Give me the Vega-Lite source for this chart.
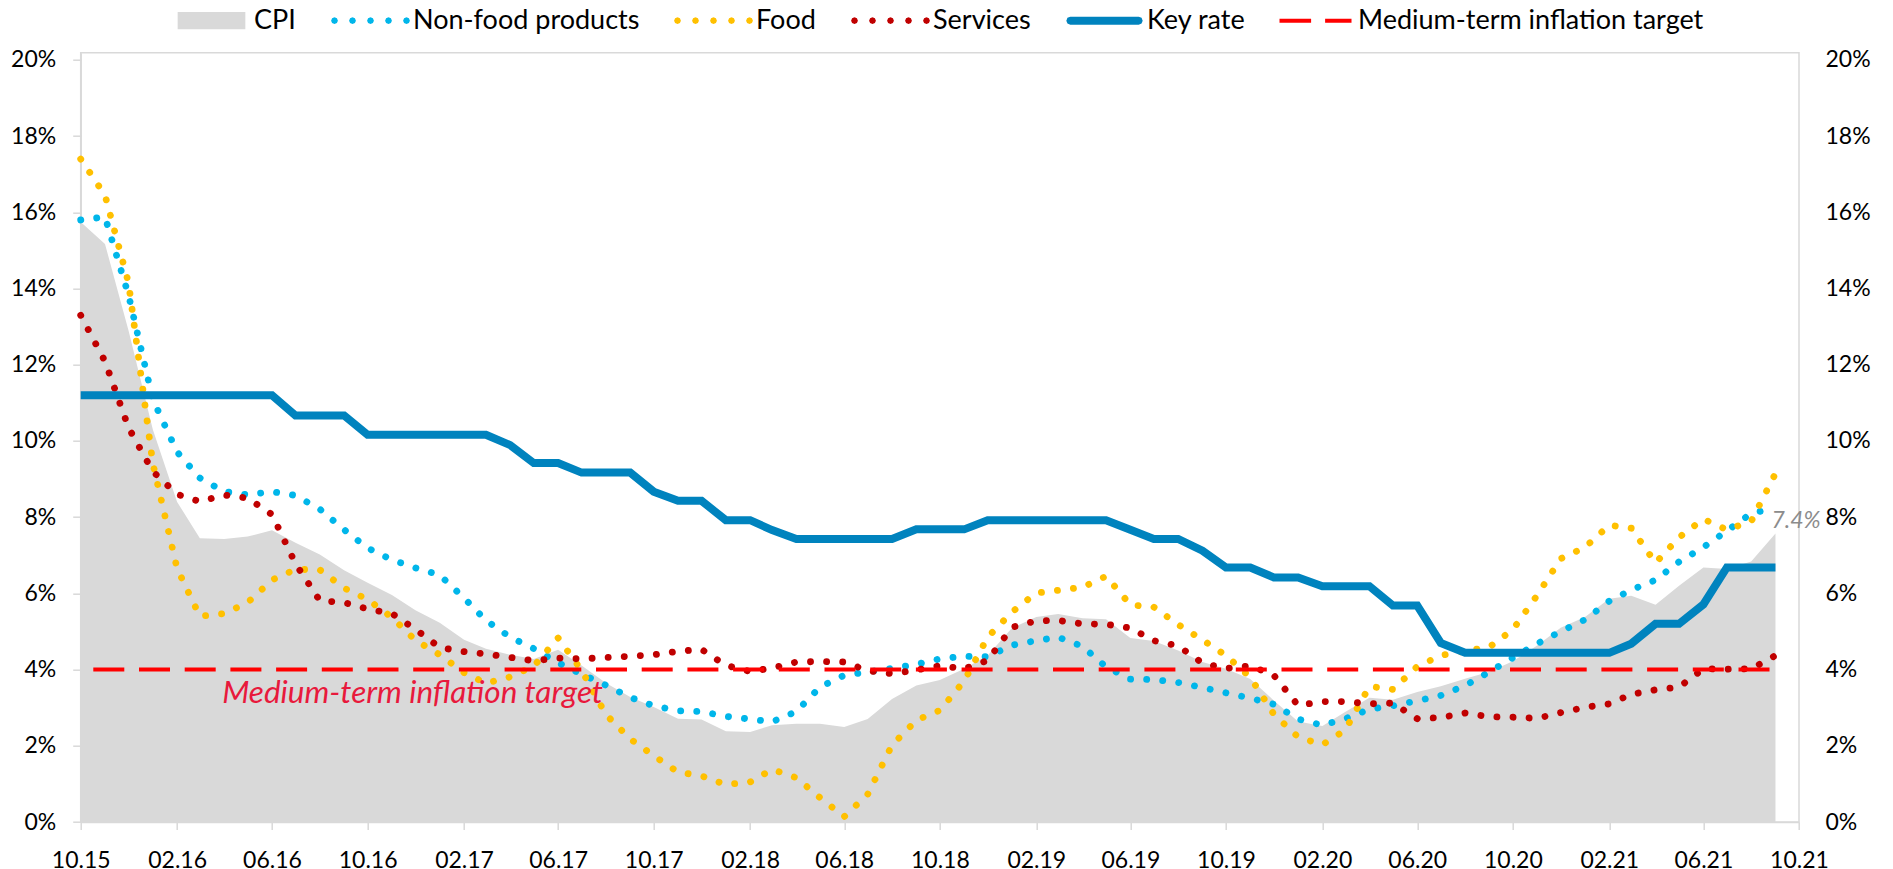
{
  "$schema": "https://vega.github.io/schema/vega-lite/v6.json",
  "width": 1718.3,
  "height": 769.3,
  "autosize": {"type": "none"},
  "padding": {"left": 80.7, "top": 52.7, "right": 94, "bottom": 47},
  "background": "white",
  "config": {
    "view": {"stroke": "#D9D9D9", "strokeWidth": 1.5},
    "font": "Lato",
    "axis": {"grid": false, "title": null, "labelFont": "Lato", "labelFontSize": 23, "labelColor": "#000000", "domainColor": "#D9D9D9", "domainWidth": 1.5, "tickColor": "#D9D9D9", "tickWidth": 1.5, "labelOverlap": false}
  },
  "datasets": {
    "series": [
      {"date": "2015-10-01", "cpi": 15.75, "nonfood": 15.80, "food": 17.40, "services": 13.30, "keyrate": 11.20, "target": 4},
      {"date": "2015-11-01", "cpi": 15.17, "nonfood": 15.88, "food": 16.45, "services": 12.09, "keyrate": 11.20, "target": 4},
      {"date": "2015-12-01", "cpi": 12.90, "nonfood": 13.83, "food": 14.15, "services": 10.35, "keyrate": 11.20, "target": 4},
      {"date": "2016-01-01", "cpi": 10.30, "nonfood": 11.09, "food": 9.41, "services": 9.20, "keyrate": 11.20, "target": 4},
      {"date": "2016-02-01", "cpi": 8.40, "nonfood": 9.71, "food": 6.65, "services": 8.60, "keyrate": 11.20, "target": 4},
      {"date": "2016-03-01", "cpi": 7.45, "nonfood": 9.03, "food": 5.40, "services": 8.41, "keyrate": 11.20, "target": 4},
      {"date": "2016-04-01", "cpi": 7.43, "nonfood": 8.67, "food": 5.47, "services": 8.58, "keyrate": 11.20, "target": 4},
      {"date": "2016-05-01", "cpi": 7.49, "nonfood": 8.59, "food": 5.76, "services": 8.50, "keyrate": 11.20, "target": 4},
      {"date": "2016-06-01", "cpi": 7.66, "nonfood": 8.67, "food": 6.35, "services": 8.07, "keyrate": 11.20, "target": 4},
      {"date": "2016-07-01", "cpi": 7.33, "nonfood": 8.57, "food": 6.63, "services": 6.78, "keyrate": 10.67, "target": 4},
      {"date": "2016-08-01", "cpi": 7.02, "nonfood": 8.21, "food": 6.62, "services": 5.81, "keyrate": 10.67, "target": 4},
      {"date": "2016-09-01", "cpi": 6.61, "nonfood": 7.67, "food": 6.14, "services": 5.76, "keyrate": 10.67, "target": 4},
      {"date": "2016-10-01", "cpi": 6.28, "nonfood": 7.19, "food": 5.84, "services": 5.59, "keyrate": 10.16, "target": 4},
      {"date": "2016-11-01", "cpi": 5.96, "nonfood": 6.88, "food": 5.37, "services": 5.47, "keyrate": 10.16, "target": 4},
      {"date": "2016-12-01", "cpi": 5.56, "nonfood": 6.67, "food": 4.77, "services": 5.06, "keyrate": 10.16, "target": 4},
      {"date": "2017-01-01", "cpi": 5.23, "nonfood": 6.48, "food": 4.39, "services": 4.58, "keyrate": 10.16, "target": 4},
      {"date": "2017-02-01", "cpi": 4.78, "nonfood": 5.88, "food": 3.92, "services": 4.47, "keyrate": 10.16, "target": 4},
      {"date": "2017-03-01", "cpi": 4.55, "nonfood": 5.29, "food": 3.64, "services": 4.41, "keyrate": 10.16, "target": 4},
      {"date": "2017-04-01", "cpi": 4.39, "nonfood": 4.85, "food": 3.81, "services": 4.32, "keyrate": 9.89, "target": 4},
      {"date": "2017-05-01", "cpi": 4.28, "nonfood": 4.55, "food": 4.09, "services": 4.23, "keyrate": 9.42, "target": 4},
      {"date": "2017-06-01", "cpi": 4.52, "nonfood": 4.18, "food": 4.83, "services": 4.30, "keyrate": 9.42, "target": 4},
      {"date": "2017-07-01", "cpi": 4.11, "nonfood": 3.88, "food": 3.98, "services": 4.28, "keyrate": 9.17, "target": 4},
      {"date": "2017-08-01", "cpi": 3.65, "nonfood": 3.59, "food": 2.82, "services": 4.32, "keyrate": 9.17, "target": 4},
      {"date": "2017-09-01", "cpi": 3.28, "nonfood": 3.27, "food": 2.18, "services": 4.35, "keyrate": 9.17, "target": 4},
      {"date": "2017-10-01", "cpi": 3.02, "nonfood": 3.05, "food": 1.74, "services": 4.39, "keyrate": 8.67, "target": 4},
      {"date": "2017-11-01", "cpi": 2.71, "nonfood": 2.92, "food": 1.31, "services": 4.48, "keyrate": 8.43, "target": 4},
      {"date": "2017-12-01", "cpi": 2.69, "nonfood": 2.90, "food": 1.21, "services": 4.53, "keyrate": 8.43, "target": 4},
      {"date": "2018-01-01", "cpi": 2.38, "nonfood": 2.77, "food": 0.98, "services": 4.11, "keyrate": 7.92, "target": 4},
      {"date": "2018-02-01", "cpi": 2.36, "nonfood": 2.70, "food": 1.05, "services": 3.95, "keyrate": 7.92, "target": 4},
      {"date": "2018-03-01", "cpi": 2.54, "nonfood": 2.63, "food": 1.38, "services": 4.04, "keyrate": 7.66, "target": 4},
      {"date": "2018-04-01", "cpi": 2.58, "nonfood": 2.90, "food": 1.16, "services": 4.20, "keyrate": 7.43, "target": 4},
      {"date": "2018-05-01", "cpi": 2.58, "nonfood": 3.54, "food": 0.64, "services": 4.21, "keyrate": 7.43, "target": 4},
      {"date": "2018-06-01", "cpi": 2.49, "nonfood": 3.85, "food": 0.14, "services": 4.20, "keyrate": 7.43, "target": 4},
      {"date": "2018-07-01", "cpi": 2.70, "nonfood": 3.94, "food": 0.73, "services": 3.97, "keyrate": 7.43, "target": 4},
      {"date": "2018-08-01", "cpi": 3.23, "nonfood": 4.03, "food": 2.02, "services": 3.89, "keyrate": 7.43, "target": 4},
      {"date": "2018-09-01", "cpi": 3.58, "nonfood": 4.14, "food": 2.67, "services": 3.99, "keyrate": 7.68, "target": 4},
      {"date": "2018-10-01", "cpi": 3.73, "nonfood": 4.28, "food": 2.93, "services": 4.10, "keyrate": 7.68, "target": 4},
      {"date": "2018-11-01", "cpi": 4.02, "nonfood": 4.35, "food": 3.70, "services": 4.02, "keyrate": 7.68, "target": 4},
      {"date": "2018-12-01", "cpi": 4.37, "nonfood": 4.34, "food": 4.85, "services": 4.24, "keyrate": 7.92, "target": 4},
      {"date": "2019-01-01", "cpi": 5.09, "nonfood": 4.64, "food": 5.51, "services": 5.11, "keyrate": 7.92, "target": 4},
      {"date": "2019-02-01", "cpi": 5.38, "nonfood": 4.76, "food": 6.01, "services": 5.28, "keyrate": 7.92, "target": 4},
      {"date": "2019-03-01", "cpi": 5.46, "nonfood": 4.85, "food": 6.08, "services": 5.29, "keyrate": 7.92, "target": 4},
      {"date": "2019-04-01", "cpi": 5.35, "nonfood": 4.61, "food": 6.16, "services": 5.20, "keyrate": 7.92, "target": 4},
      {"date": "2019-05-01", "cpi": 5.32, "nonfood": 4.07, "food": 6.45, "services": 5.19, "keyrate": 7.92, "target": 4},
      {"date": "2019-06-01", "cpi": 4.83, "nonfood": 3.75, "food": 5.70, "services": 5.09, "keyrate": 7.67, "target": 4},
      {"date": "2019-07-01", "cpi": 4.75, "nonfood": 3.74, "food": 5.64, "services": 4.76, "keyrate": 7.43, "target": 4},
      {"date": "2019-08-01", "cpi": 4.50, "nonfood": 3.66, "food": 5.18, "services": 4.62, "keyrate": 7.43, "target": 4},
      {"date": "2019-09-01", "cpi": 4.20, "nonfood": 3.53, "food": 4.78, "services": 4.17, "keyrate": 7.12, "target": 4},
      {"date": "2019-10-01", "cpi": 4.02, "nonfood": 3.39, "food": 4.37, "services": 4.03, "keyrate": 6.68, "target": 4},
      {"date": "2019-11-01", "cpi": 3.75, "nonfood": 3.25, "food": 3.80, "services": 4.10, "keyrate": 6.68, "target": 4},
      {"date": "2019-12-01", "cpi": 3.19, "nonfood": 3.09, "food": 2.83, "services": 3.85, "keyrate": 6.42, "target": 4},
      {"date": "2020-01-01", "cpi": 2.64, "nonfood": 2.70, "food": 2.23, "services": 3.06, "keyrate": 6.42, "target": 4},
      {"date": "2020-02-01", "cpi": 2.52, "nonfood": 2.54, "food": 2.03, "services": 3.16, "keyrate": 6.19, "target": 4},
      {"date": "2020-03-01", "cpi": 2.89, "nonfood": 2.71, "food": 2.41, "services": 3.16, "keyrate": 6.19, "target": 4},
      {"date": "2020-04-01", "cpi": 3.26, "nonfood": 2.96, "food": 3.56, "services": 3.10, "keyrate": 6.19, "target": 4},
      {"date": "2020-05-01", "cpi": 3.21, "nonfood": 3.05, "food": 3.48, "services": 3.12, "keyrate": 5.68, "target": 4},
      {"date": "2020-06-01", "cpi": 3.41, "nonfood": 3.18, "food": 4.08, "services": 2.71, "keyrate": 5.68, "target": 4},
      {"date": "2020-07-01", "cpi": 3.56, "nonfood": 3.32, "food": 4.37, "services": 2.74, "keyrate": 4.70, "target": 4},
      {"date": "2020-08-01", "cpi": 3.76, "nonfood": 3.58, "food": 4.49, "services": 2.86, "keyrate": 4.44, "target": 4},
      {"date": "2020-09-01", "cpi": 3.94, "nonfood": 3.94, "food": 4.59, "services": 2.76, "keyrate": 4.44, "target": 4},
      {"date": "2020-10-01", "cpi": 4.22, "nonfood": 4.31, "food": 5.05, "services": 2.75, "keyrate": 4.44, "target": 4},
      {"date": "2020-11-01", "cpi": 4.63, "nonfood": 4.68, "food": 5.95, "services": 2.72, "keyrate": 4.44, "target": 4},
      {"date": "2020-12-01", "cpi": 5.10, "nonfood": 5.00, "food": 6.91, "services": 2.87, "keyrate": 4.44, "target": 4},
      {"date": "2021-01-01", "cpi": 5.38, "nonfood": 5.31, "food": 7.21, "services": 3.01, "keyrate": 4.44, "target": 4},
      {"date": "2021-02-01", "cpi": 5.86, "nonfood": 5.80, "food": 7.79, "services": 3.10, "keyrate": 4.44, "target": 4},
      {"date": "2021-03-01", "cpi": 5.94, "nonfood": 6.09, "food": 7.71, "services": 3.35, "keyrate": 4.68, "target": 4},
      {"date": "2021-04-01", "cpi": 5.70, "nonfood": 6.35, "food": 6.80, "services": 3.47, "keyrate": 5.20, "target": 4},
      {"date": "2021-05-01", "cpi": 6.20, "nonfood": 6.83, "food": 7.47, "services": 3.54, "keyrate": 5.20, "target": 4},
      {"date": "2021-06-01", "cpi": 6.68, "nonfood": 7.21, "food": 7.95, "services": 4.02, "keyrate": 5.71, "target": 4},
      {"date": "2021-07-01", "cpi": 6.64, "nonfood": 7.64, "food": 7.67, "services": 4.01, "keyrate": 6.68, "target": 4},
      {"date": "2021-08-01", "cpi": 6.84, "nonfood": 8.10, "food": 7.89, "services": 4.02, "keyrate": 6.68, "target": 4},
      {"date": "2021-09-01", "cpi": 7.57, "nonfood": 8.24, "food": 9.15, "services": 4.37, "keyrate": 6.68, "target": 4}
    ],
    "labels": [
      {"kind": "target", "date": "2016-04-01", "value": 4, "text": "Medium-term inflation target"},
      {"kind": "cpi", "date": "2021-09-01", "value": 7.57, "text": "7.4%"}
    ]
  },
  "data": {"name": "series"},
  "encoding": {
    "x": {
      "field": "date", "type": "temporal", "title": null,
      "scale": {"type": "utc", "nice": false, "domain": [{"year": 2015, "month": 10, "date": 1, "utc": true}, {"year": 2021, "month": 10, "date": 1, "utc": true}]},
      "axis": {
        "title": null, "format": "%m.%y", "tickSize": 7.5, "labelPadding": 20, "labelFlush": false,
        "values": [
          {"year": 2015, "month": 10, "date": 1, "utc": true},
          {"year": 2016, "month": 2, "date": 1, "utc": true},
          {"year": 2016, "month": 6, "date": 1, "utc": true},
          {"year": 2016, "month": 10, "date": 1, "utc": true},
          {"year": 2017, "month": 2, "date": 1, "utc": true},
          {"year": 2017, "month": 6, "date": 1, "utc": true},
          {"year": 2017, "month": 10, "date": 1, "utc": true},
          {"year": 2018, "month": 2, "date": 1, "utc": true},
          {"year": 2018, "month": 6, "date": 1, "utc": true},
          {"year": 2018, "month": 10, "date": 1, "utc": true},
          {"year": 2019, "month": 2, "date": 1, "utc": true},
          {"year": 2019, "month": 6, "date": 1, "utc": true},
          {"year": 2019, "month": 10, "date": 1, "utc": true},
          {"year": 2020, "month": 2, "date": 1, "utc": true},
          {"year": 2020, "month": 6, "date": 1, "utc": true},
          {"year": 2020, "month": 10, "date": 1, "utc": true},
          {"year": 2021, "month": 2, "date": 1, "utc": true},
          {"year": 2021, "month": 6, "date": 1, "utc": true},
          {"year": 2021, "month": 10, "date": 1, "utc": true}
        ]
      }
    }
  },
  "layer": [
    {
      "layer": [
        {
          "mark": {"type": "area", "opacity": 1},
          "encoding": {
            "y": {"field": "cpi", "type": "quantitative", "title": null, "scale": {"domain": [0, 20.19], "nice": false},
              "axis": {"orient": "left", "title": null, "values": [0, 2, 4, 6, 8, 10, 12, 14, 16, 18, 20], "labelExpr": "datum.value + '%'", "tickSize": 8, "labelPadding": 17}},
            "color": {
              "datum": "CPI", "type": "nominal",
              "scale": {
                "domain": ["CPI", "Non-food products", "Food", "Services", "Key rate", "Medium-term inflation target"],
                "range": ["#D9D9D9", "#00B6EA", "#FFC000", "#C00000", "#0083BE", "#FF0000"]
              },
              "legend": {
                "title": null, "orient": "none", "direction": "horizontal", "columns": 6,
                "legendX": 94.8, "legendY": -68, "padding": 0,
                "symbolSize": 5184,
                "symbolStrokeWidth": 0,
                "symbolStrokeColor": "transparent",
                "symbolType": {"expr": "datum.value === 'CPI' ? 'M-0.94,-0.24H0.94V0.24H-0.94Z' : ((datum.value === 'Non-food products' || datum.value === 'Food' || datum.value === 'Services') ? 'M-0.905,0L-0.933,0.067L-1,0.095L-1.067,0.067L-1.095,0L-1.067,-0.067L-1,-0.095L-0.933,-0.067Z M-0.405,0L-0.433,0.067L-0.5,0.095L-0.567,0.067L-0.595,0L-0.567,-0.067L-0.5,-0.095L-0.433,-0.067Z M0.095,0L0.067,0.067L0,0.095L-0.067,0.067L-0.095,0L-0.067,-0.067L0,-0.095L0.067,-0.067Z M0.595,0L0.567,0.067L0.5,0.095L0.433,0.067L0.405,0L0.433,-0.067L0.5,-0.095L0.567,-0.067Z M1.095,0L1.067,0.067L1,0.095L0.933,0.067L0.905,0L0.933,-0.067L1,-0.095L1.067,-0.067Z' : (datum.value === 'Key rate' ? 'M-0.95,-0.111H0.95L1.03,-0.08L1.06,0L1.03,0.08L0.95,0.111H-0.95L-1.03,0.08L-1.06,0L-1.03,-0.08Z' : 'M-1,-0.056H-0.122V0.056H-1Z M0.267,-0.056H1V0.056H0.267Z'))"},
                "symbolFillColor": {"expr": "datum.value === 'CPI' ? '#D9D9D9' : (datum.value === 'Non-food products' ? '#00B6EA' : (datum.value === 'Food' ? '#FFC000' : (datum.value === 'Services' ? '#C00000' : (datum.value === 'Key rate' ? '#0083BE' : '#FF0000'))))"},
                "symbolOpacity": 1,
                "labelFont": "Lato", "labelFontSize": 27, "labelColor": "#000000", "labelLimit": 600,
                "labelOffset": 6.5, "columnPadding": 34
              }
            }
          }
        },
        {
          "mark": {"type": "line", "strokeWidth": 6.8, "strokeDash": [0.1, 16], "strokeCap": "round"},
          "encoding": {
            "y": {"field": "nonfood", "type": "quantitative", "title": null, "scale": {"domain": [0, 20.19], "nice": false}},
            "color": {"datum": "Non-food products", "type": "nominal"}
          }
        },
        {
          "mark": {"type": "line", "strokeWidth": 6.8, "strokeDash": [0.1, 16], "strokeCap": "round"},
          "encoding": {
            "y": {"field": "food", "type": "quantitative", "title": null, "scale": {"domain": [0, 20.19], "nice": false}},
            "color": {"datum": "Food", "type": "nominal"}
          }
        },
        {
          "mark": {"type": "line", "strokeWidth": 6.8, "strokeDash": [0.1, 16], "strokeCap": "round"},
          "encoding": {
            "y": {"field": "services", "type": "quantitative", "title": null, "scale": {"domain": [0, 20.19], "nice": false}},
            "color": {"datum": "Services", "type": "nominal"}
          }
        },
        {
          "mark": {"type": "line", "strokeWidth": 8},
          "encoding": {
            "y": {"field": "keyrate", "type": "quantitative", "title": null, "scale": {"domain": [0, 20.19], "nice": false}},
            "color": {"datum": "Key rate", "type": "nominal"}
          }
        }
      ]
    },
    {
      "layer": [
        {
          "mark": {"type": "line", "strokeWidth": 4, "strokeDash": [31, 14.7], "strokeDashOffset": 33.1},
          "encoding": {
            "y": {"field": "target", "type": "quantitative", "title": null, "scale": {"domain": [0, 20.19], "nice": false},
              "axis": {"orient": "right", "title": null, "values": [0, 2, 4, 6, 8, 10, 12, 14, 16, 18, 20], "labelExpr": "datum.value + '%'", "ticks": false, "domain": false, "labelPadding": 26}},
            "color": {"datum": "Medium-term inflation target", "type": "nominal"}
          }
        },
        {
          "data": {"name": "labels"},
          "transform": [{"filter": "datum.kind === 'target'"}],
          "mark": {"type": "text", "font": "Lato", "fontStyle": "italic", "fontSize": 31.5, "color": "#E8193C", "align": "left", "baseline": "alphabetic", "dx": -2, "dy": 33},
          "encoding": {
            "y": {"field": "value", "type": "quantitative", "title": null, "scale": {"domain": [0, 20.19], "nice": false}},
            "text": {"field": "text"}
          }
        },
        {
          "data": {"name": "labels"},
          "transform": [{"filter": "datum.kind === 'cpi'"}],
          "mark": {"type": "text", "font": "Lato", "fontStyle": "italic", "fontSize": 23, "color": "#8C8C8C", "align": "left", "baseline": "alphabetic", "dx": -4, "dy": -6},
          "encoding": {
            "y": {"field": "value", "type": "quantitative", "title": null, "scale": {"domain": [0, 20.19], "nice": false}},
            "text": {"field": "text"}
          }
        }
      ]
    }
  ],
  "resolve": {"scale": {"y": "independent"}}
}
